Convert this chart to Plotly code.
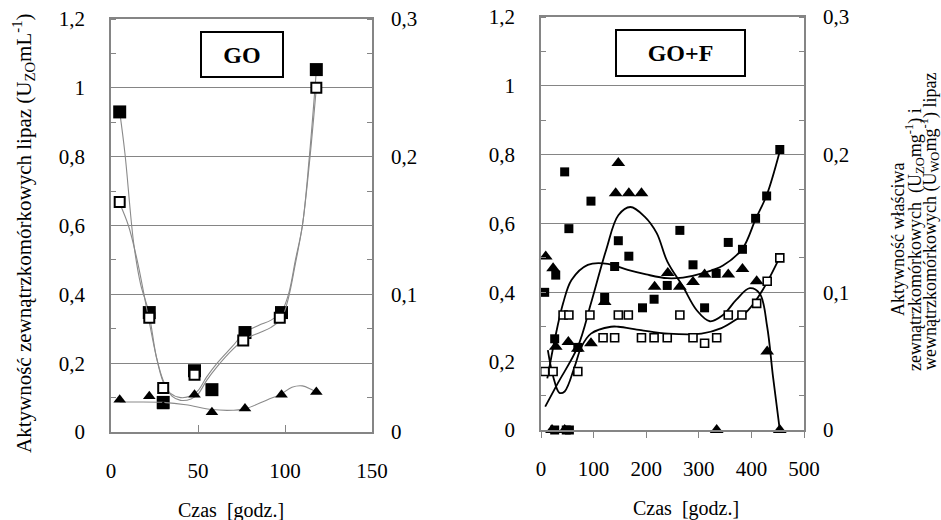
import plotly.graph_objects as go

# ---------------- data: panel GO ----------------
go_time = [5, 22, 30, 48, 58, 77, 98, 118]
go_ext_ml = [0.93, 0.347, 0.086, 0.178, 0.123, 0.289, 0.347, 1.053]          # filled squares (left axis)
go_open_time = [5, 22, 30, 48, 76, 97, 118]
go_ext_spec = [0.167, 0.083, 0.032, 0.0415, 0.0665, 0.083, 0.25]              # open squares (right axis)
go_int_spec = [0.0235, 0.026, 0.0185, 0.027, 0.0143, 0.017, 0.027, 0.029]     # triangles (right axis)

go_fit_ml_t = [5, 8, 13, 17, 21.6, 26, 30, 34, 40, 46, 50, 55, 61, 70, 77, 85, 92, 98, 102, 106, 110, 114, 118]
go_fit_ml = [0.93, 0.81, 0.55, 0.43, 0.35, 0.22, 0.145, 0.113, 0.10, 0.105, 0.12, 0.16, 0.20, 0.25, 0.29,
             0.31, 0.325, 0.35, 0.40, 0.50, 0.60, 0.80, 1.05]
go_fit_ext_t = [5, 10, 15, 21.6, 26, 30, 35, 40, 46, 50, 55, 61, 70, 77, 85, 92, 98, 102, 106, 110, 114, 118]
go_fit_ext = [0.166, 0.15, 0.125, 0.0825, 0.055, 0.0375, 0.026, 0.023, 0.024, 0.0275, 0.0375, 0.0475, 0.06,
              0.0675, 0.072, 0.076, 0.0825, 0.0975, 0.1225, 0.15, 0.195, 0.25]
go_fit_int_t = [5, 15, 30, 43, 58, 70, 77, 90, 97, 104, 110, 115, 118]
go_fit_int = [0.0218, 0.0218, 0.0215, 0.0198, 0.0163, 0.0158, 0.0168, 0.0235, 0.027, 0.0325, 0.0335, 0.031, 0.029]

# ---------------- data: panel GO+F ----------------
gof_sq_t = [7, 26, 28, 45, 53, 70, 95, 121, 140, 147, 167, 193, 215, 240, 264, 289, 311, 333, 356, 383,
            408, 429, 454, 26, 48, 54]
gof_ext_ml = [0.40, 0.265, 0.45, 0.75, 0.585, 0.24, 0.665, 0.385, 0.475, 0.55, 0.505, 0.355, 0.38, 0.42,
              0.58, 0.48, 0.355, 0.455, 0.545, 0.525, 0.615, 0.68, 0.815, 0, 0, 0]
gof_open_t = [7, 23, 42, 53, 70, 93, 118, 140, 147, 166, 191, 215, 240, 264, 289, 311, 334, 356, 382,
              410, 430, 454]
gof_ext_spec = [0.0425, 0.0425, 0.0835, 0.0835, 0.0425, 0.0835, 0.067, 0.067, 0.0835, 0.0835, 0.067,
                0.067, 0.067, 0.0835, 0.067, 0.063, 0.067, 0.0835, 0.0835, 0.092, 0.108, 0.125]
gof_tri_t = [9, 23, 28, 52, 70, 95, 121, 142, 147, 167, 191, 216, 241, 264, 289, 311, 334, 356, 383,
             410, 430, 454, 21, 45]
gof_int_spec = [0.126, 0.1175, 0.0605, 0.064, 0.059, 0.063, 0.093, 0.172, 0.194, 0.172, 0.172, 0.104,
                0.114, 0.104, 0.1075, 0.113, 0, 0.113, 0.117, 0.108, 0.057, 0, 0, 0]

gof_fit_ml_t = [12, 20, 26, 42, 58, 89, 127, 165, 200, 240, 270, 308, 346, 383, 408, 429, 454]
gof_fit_ml = [0.15, 0.215, 0.262, 0.368, 0.436, 0.48, 0.483, 0.465, 0.452, 0.441, 0.443, 0.456, 0.478,
              0.527, 0.613, 0.682, 0.81]
gof_fit_ext_t = [13, 23, 35, 45, 64, 77, 95, 133, 147, 190, 242, 305, 343, 370, 394, 422, 454]
gof_fit_ext = [0.058, 0.039, 0.027, 0.028, 0.046, 0.0605, 0.070, 0.075, 0.075, 0.0725, 0.070, 0.070,
               0.074, 0.080, 0.087, 0.102, 0.1255]
gof_fit_int_t = [8, 32, 70, 95, 124, 147, 170, 197, 220, 240, 270, 296, 321, 346, 371, 397, 416, 430, 441, 454]
gof_fit_int = [0.017, 0.034, 0.0605, 0.092, 0.131, 0.156, 0.162, 0.155, 0.143, 0.1225, 0.104, 0.087,
               0.079, 0.0835, 0.0945, 0.103, 0.099, 0.075, 0.039, 0]

left_ticks_y = [0, 0.2, 0.4, 0.6, 0.8, 1.0, 1.2]
right_ticks_y = [0, 0.1, 0.2, 0.3]

# ---------------- layout helpers ----------------
W, H = 941, 520
FONT = "Liberation Serif, Times New Roman, DejaVu Serif, serif"
GRID = "#858585"


def fx(p):
    return p / W


def fy(p):
    return 1 - p / H


fig = go.Figure()

GRAYLINE = dict(color="#8a8a8a", width=1.1)
BLACKLINE = dict(color="black", width=1.8)

# Panel GO: lines
fig.add_trace(go.Scatter(x=go_fit_ml_t, y=go_fit_ml, mode="lines", line=dict(shape="spline", **GRAYLINE),
                         xaxis="x", yaxis="y", showlegend=False, hoverinfo="skip"))
fig.add_trace(go.Scatter(x=go_fit_ext_t, y=go_fit_ext, mode="lines", line=dict(shape="spline", **GRAYLINE),
                         xaxis="x", yaxis="y2", showlegend=False, hoverinfo="skip"))
fig.add_trace(go.Scatter(x=go_fit_int_t, y=go_fit_int, mode="lines", line=dict(shape="spline", **GRAYLINE),
                         xaxis="x", yaxis="y2", showlegend=False, hoverinfo="skip"))
# Panel GO: markers
fig.add_trace(go.Scatter(x=go_open_time, y=go_ext_spec, mode="markers", xaxis="x", yaxis="y2",
                         marker=dict(symbol="square", size=10, color="white", line=dict(color="black", width=2)),
                         showlegend=False, cliponaxis=False))
fig.add_trace(go.Scatter(x=go_time, y=go_int_spec, mode="markers", xaxis="x", yaxis="y2",
                         marker=dict(symbol="triangle-up", size=11, color="black", line=dict(width=0)),
                         showlegend=False, cliponaxis=False))
fig.add_trace(go.Scatter(x=go_time, y=go_ext_ml, mode="markers", xaxis="x", yaxis="y",
                         marker=dict(symbol="square", size=13, color="black", line=dict(width=0)),
                         showlegend=False, cliponaxis=False))

# Panel GO+F: lines
fig.add_trace(go.Scatter(x=gof_fit_ml_t, y=gof_fit_ml, mode="lines", line=dict(shape="spline", **BLACKLINE),
                         xaxis="x2", yaxis="y3", showlegend=False, hoverinfo="skip"))
fig.add_trace(go.Scatter(x=gof_fit_ext_t, y=gof_fit_ext, mode="lines", line=dict(shape="spline", **BLACKLINE),
                         xaxis="x2", yaxis="y4", showlegend=False, hoverinfo="skip"))
fig.add_trace(go.Scatter(x=gof_fit_int_t, y=gof_fit_int, mode="lines", line=dict(shape="spline", **BLACKLINE),
                         xaxis="x2", yaxis="y4", showlegend=False, hoverinfo="skip"))
# Panel GO+F: markers
fig.add_trace(go.Scatter(x=gof_open_t, y=gof_ext_spec, mode="markers", xaxis="x2", yaxis="y4",
                         marker=dict(symbol="square", size=8, color="white", line=dict(color="black", width=1.6)),
                         showlegend=False, cliponaxis=False))
fig.add_trace(go.Scatter(x=gof_sq_t, y=gof_ext_ml, mode="markers", xaxis="x2", yaxis="y3",
                         marker=dict(symbol="square", size=9, color="black", line=dict(width=0)),
                         showlegend=False, cliponaxis=False))
fig.add_trace(go.Scatter(x=gof_tri_t, y=gof_int_spec, mode="markers", xaxis="x2", yaxis="y4",
                         marker=dict(symbol="triangle-up", size=12, color="black", line=dict(width=0)),
                         showlegend=False, cliponaxis=False))

tickfont = dict(family=FONT, size=21, color="black")

LX = [111, 372]
RX = [541, 804]
LY = [fy(432), fy(19)]
RY = [fy(430), fy(17)]

common_y = dict(range=[0, 1.2], tickvals=left_ticks_y, showgrid=True, gridcolor=GRID, gridwidth=1,
                showline=True, linecolor=GRID, linewidth=1.5, ticks="", zeroline=False, automargin=False,
                minor=dict(dtick=0.1, ticks="inside", ticklen=5, tickcolor=GRID, showgrid=False),
                tickfont=tickfont, ticklabelstandoff=20, fixedrange=True)
common_y2 = dict(range=[0, 0.3], tickvals=right_ticks_y, showgrid=False, showline=False, side="right",
                 ticks="", zeroline=False, automargin=False,
                 minor=dict(dtick=0.025, ticks="inside", ticklen=5, tickcolor=GRID, showgrid=False),
                 tickfont=tickfont, ticklabelstandoff=18, fixedrange=True)

fig.update_layout(
    template="none",
    width=W, height=H,
    margin=dict(l=0, r=0, t=0, b=0, autoexpand=False),
    paper_bgcolor="white", plot_bgcolor="white",
    separators=", ",
    font=dict(family=FONT, color="black"),
    xaxis=dict(domain=[fx(LX[0]), fx(LX[1])], anchor="y", range=[0, 150], tickvals=[0, 50, 100, 150],
               showgrid=False, showline=True, mirror=True, linecolor=GRID, linewidth=1.5, zeroline=False,
               ticks="inside", ticklen=7, tickcolor=GRID, tickfont=tickfont, ticklabelstandoff=19,
               automargin=False, fixedrange=True),
    yaxis=dict(domain=LY, anchor="x", mirror=True, **common_y),
    yaxis2=dict(overlaying="y", anchor="x", **common_y2),
    xaxis2=dict(domain=[fx(RX[0]), fx(RX[1])], anchor="y3", range=[0, 500],
                tickvals=[0, 100, 200, 300, 400, 500],
                showgrid=False, showline=True, mirror=True, linecolor=GRID, linewidth=1.8, zeroline=False,
                ticks="outside", ticklen=6, tickcolor=GRID, tickfont=tickfont, ticklabelstandoff=13,
                automargin=False, fixedrange=True),
    yaxis3=dict(domain=RY, anchor="x2", mirror=True, **common_y),
    yaxis4=dict(overlaying="y3", anchor="x2", **common_y2),
)

annotations = [
    dict(text="<b>GO</b>", x=fx(242), y=fy(55), xref="paper", yref="paper", showarrow=False,
         font=dict(family=FONT, size=24, color="black"), bordercolor="black", borderwidth=2,
         borderpad=0, width=80, height=43, bgcolor="white", xanchor="center", yanchor="middle"),
    dict(text="<b>GO+F</b>", x=fx(680.5), y=fy(53.5), xref="paper", yref="paper", showarrow=False,
         font=dict(family=FONT, size=24, color="black"), bordercolor="black", borderwidth=2,
         borderpad=0, width=127, height=44, bgcolor="white", xanchor="center", yanchor="middle"),
    dict(text="Czas  [godz.]", x=fx(231), y=fy(510), xref="paper", yref="paper", showarrow=False,
         font=dict(family=FONT, size=20, color="black"), xanchor="center", yanchor="middle"),
    dict(text="Czas  [godz.]", x=fx(686), y=fy(508), xref="paper", yref="paper", showarrow=False,
         font=dict(family=FONT, size=20, color="black"), xanchor="center", yanchor="middle"),
    dict(text="Aktywność zewnątrzkomórkowych lipaz (U<sub>ZO</sub>mL<sup>-1</sup>)", x=fx(24), y=fy(234),
         xref="paper", yref="paper", showarrow=False, textangle=-90,
         font=dict(family=FONT, size=21, color="black"), xanchor="center", yanchor="middle"),
    dict(text="Aktywność właściwa", x=fx(898), y=fy(240),
         xref="paper", yref="paper", showarrow=False, textangle=-90,
         font=dict(family=FONT, size=18, color="black"), xanchor="center", yanchor="middle"),
    dict(text="zewnątrzkomórkowych  (U<sub>ZO</sub>mg<sup>-1</sup>) i", x=fx(914), y=fy(240),
         xref="paper", yref="paper", showarrow=False, textangle=-90,
         font=dict(family=FONT, size=18, color="black"), xanchor="center", yanchor="middle"),
    dict(text="wewnątrzkomórkowych (U<sub>WO</sub>mg<sup>-1</sup>) lipaz", x=fx(929), y=fy(222),
         xref="paper", yref="paper", showarrow=False, textangle=-90,
         font=dict(family=FONT, size=18, color="black"), xanchor="center", yanchor="middle"),
]
fig.update_layout(annotations=annotations)

fig.write_html("out.html", config={"displayModeBar": False},
               post_script="document.body.style.margin='0';document.body.style.overflow='hidden';")
